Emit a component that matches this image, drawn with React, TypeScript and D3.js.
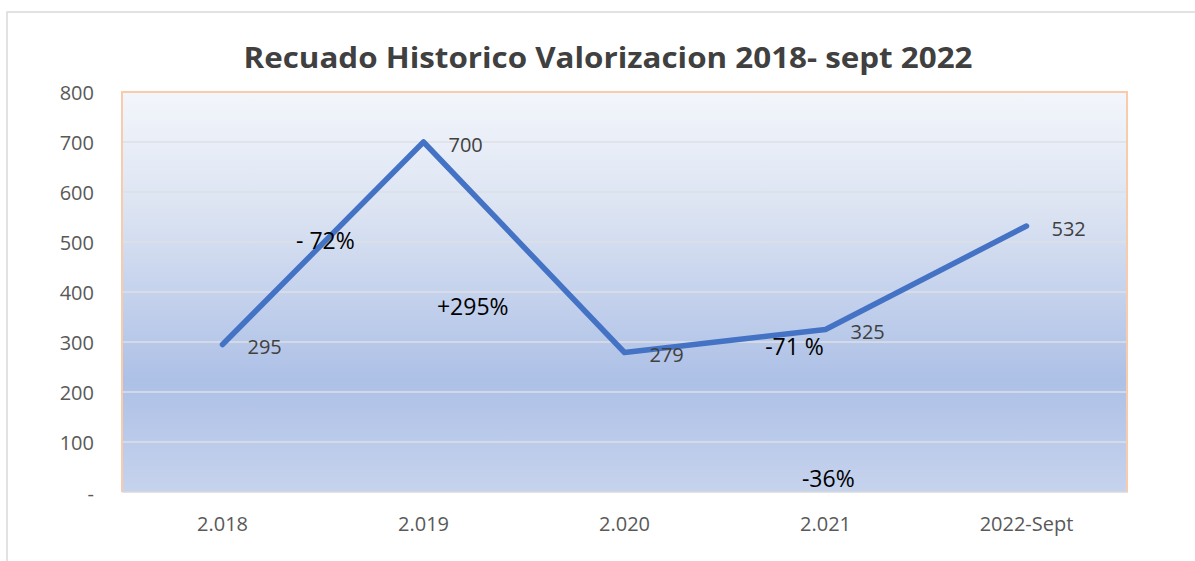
import React from "react";
import * as d3 from "d3";

const categories = ["2.018", "2.019", "2.020", "2.021", "2022-Sept"];
const values = [295, 700, 279, 325, 532];
const yTicks = [0, 100, 200, 300, 400, 500, 600, 700, 800];
const yTickLabels = ["-", "100", "200", "300", "400", "500", "600", "700", "800"];
const annotations = [
  { text: "- 72%", cat: 0, offset: 0.366, value: 504 },
  { text: "+295%", cat: 1, offset: 0.067, value: 372 },
  { text: "-71 %", cat: 3, offset: -0.3, value: 293 },
  { text: "-36%", cat: 3, offset: -0.117, value: 28 },
];
const title = "Recuado Historico Valorizacion 2018- sept 2022";

const W = 1195;
const H = 561;
const plot = { left: 122, right: 1127, top: 92, bottom: 492 };

export default function App() {
  const x = d3
    .scaleBand<string>()
    .domain(categories)
    .range([plot.left, plot.right])
    .padding(0);
  const y = d3.scaleLinear().domain([0, 800]).range([plot.bottom, plot.top]);
  const cx = (i: number) => (x(categories[i]) as number) + x.bandwidth() / 2;
  const line = d3
    .line<number>()
    .x((_, i) => cx(i))
    .y((d) => y(d));
  const font = "'Open Sans', 'Noto Sans', sans-serif";

  return (
    <svg
      width={W}
      height={H}
      style={{ position: "absolute", left: 0, top: 0, display: "block" }}
      fontFamily={font}
    >
      <defs>
        <linearGradient id="bg" x1="0" y1="0" x2="0" y2="1">
          <stop offset="0" stopColor="#f3f6fb" />
          <stop offset="0.3" stopColor="#dbe3f2" />
          <stop offset="0.72" stopColor="#adc0e6" />
          <stop offset="1" stopColor="#c6d3ed" />
        </linearGradient>
      </defs>
      <rect x={0} y={0} width={W} height={H} fill="#ffffff" />
      <path d={`M7,${H} V12 H${W}`} fill="none" stroke="#d9d9d9" strokeWidth={1.5} />
      <text
        x={608}
        y={68}
        textAnchor="middle"
        fontSize={28}
        fontWeight="bold"
        fill="#404040"
        textLength={729}
        lengthAdjust="spacingAndGlyphs"
      >
        {title}
      </text>
      <rect
        x={plot.left}
        y={plot.top}
        width={plot.right - plot.left}
        height={plot.bottom - plot.top}
        fill="url(#bg)"
      />
      {yTicks.slice(1, -1).map((t) => (
        <line
          key={t}
          x1={plot.left}
          x2={plot.right}
          y1={y(t)}
          y2={y(t)}
          stroke="#dcdfe6"
          strokeWidth={1.5}
        />
      ))}
      <path
        d={`M${plot.left},${plot.bottom} V${plot.top} H${plot.right} V${plot.bottom}`}
        fill="none"
        stroke="#f8cbad"
        strokeWidth={2}
      />
      <line
        x1={plot.left}
        x2={plot.right + 1}
        y1={plot.bottom}
        y2={plot.bottom}
        stroke="#d9d9d9"
        strokeWidth={1.5}
      />
      {yTicks.map((t, i) => (
        <text
          key={t}
          x={94}
          y={y(t) + (t === 0 ? 1 : 0)}
          textAnchor="end"
          dominantBaseline="central"
          fontSize={20}
          fill="#595959"
        >
          {yTickLabels[i]}
        </text>
      ))}
      {categories.map((c, i) => (
        <text
          key={c}
          x={cx(i)}
          y={523}
          textAnchor="middle"
          dominantBaseline="central"
          fontSize={20}
          fill="#595959"
        >
          {c}
        </text>
      ))}
      <path
        d={line(values) as string}
        fill="none"
        stroke="#4472c4"
        strokeWidth={5.5}
        strokeLinejoin="round"
        strokeLinecap="round"
      />
      {values.map((v, i) => (
        <text
          key={i}
          x={cx(i) + 25}
          y={y(v) + 2}
          dominantBaseline="central"
          fontSize={20}
          fill="#404040"
        >
          {v}
        </text>
      ))}
      {annotations.map((a, i) => (
        <text
          key={i}
          x={cx(a.cat) + a.offset * x.bandwidth()}
          y={y(a.value)}
          dominantBaseline="central"
          fontSize={23}
          fill="#000000"
        >
          {a.text}
        </text>
      ))}
    </svg>
  );
}
